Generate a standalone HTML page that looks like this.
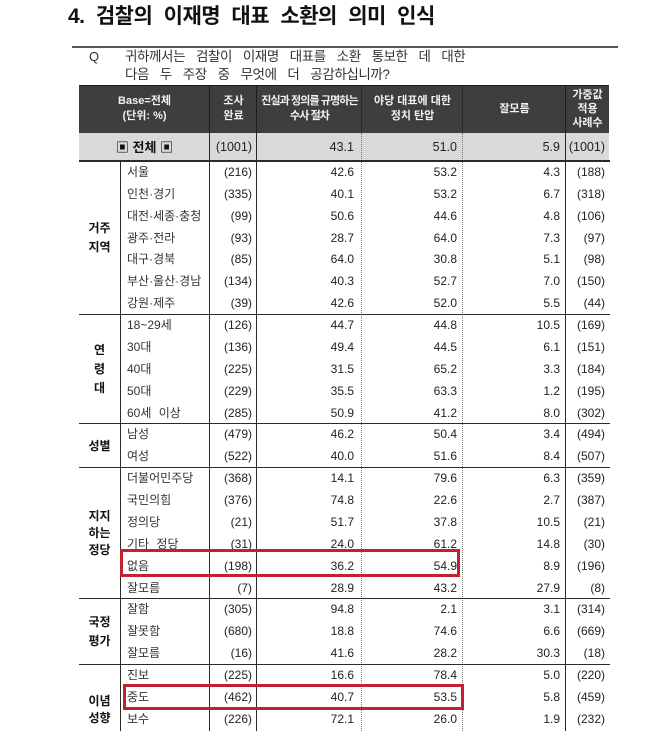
<!DOCTYPE html>
<html><head><meta charset="utf-8">
<style>
*{margin:0;padding:0;box-sizing:border-box}
body{width:658px;height:731px;background:#fff;position:relative;overflow:hidden;font-family:"Liberation Sans","Noto Sans CJK KR",sans-serif;color:#222}
.abs{position:absolute}
.title{left:68px;top:4px;font-size:21px;line-height:26px;font-weight:bold;letter-spacing:-0.5px;word-spacing:6px;color:#111;white-space:nowrap}
.q{font-size:13px;line-height:18px;color:#333;white-space:nowrap}
.qt{left:125px;top:48px;font-size:13.5px;letter-spacing:-0.4px;word-spacing:7.5px}
.hdr{left:79px;top:85px;width:530px;height:48px;background:#3e3e3e;border-top:1.5px solid #1c1c1c}
.hc{position:absolute;top:85px;height:48px;display:flex;align-items:center;justify-content:center;text-align:center;color:#f2f2f2;font-size:11px;font-weight:bold;line-height:15px;white-space:nowrap}
.tot{left:79px;top:133px;width:530px;height:28px;background:#d9d9d9}
.hl{position:absolute;left:79px;width:531px;height:1.5px;background:#2a2a2a}
.vl{position:absolute;width:1px;background:#2a2a2a}
.vd{position:absolute;width:0;border-left:1px dotted #777}
.r{position:absolute;left:0;width:658px;height:21.87px;line-height:23px;font-size:12px;white-space:nowrap}
.r span{position:absolute;top:0}
.l{left:127px;color:#333}
.n{right:406px}
.a{right:304px}
.b{right:201px}
.c{right:98px}
.d{right:53px}
.g{position:absolute;left:79px;width:41px;text-align:center;font-weight:bold;font-size:12px;color:#111}
.box{position:absolute;border:3px solid #c0232f}
</style></head><body>

<div class="abs title">4. 검찰의 이재명 대표 소환의 의미 인식</div>
<div class="abs" style="left:72px;top:46px;width:546px;height:2px;background:#555"></div>
<div class="abs q" style="left:89px;top:48px">Q</div>
<div class="abs q qt">귀하께서는 검찰이 이재명 대표를 소환 통보한 데 대한<br>다음 두 주장 중 무엇에 더 공감하십니까?</div>

<div class="abs hdr"></div>
<div class="hc" style="left:79px;width:131px">Base=전체<br>(단위: %)</div>
<div class="hc" style="left:210px;width:47px">조사<br>완료</div>
<div class="hc" style="left:257px;width:105px;letter-spacing:-0.9px">진실과 정의를 규명하는<br>수사 절차</div>
<div class="hc" style="left:362px;width:101px">야당 대표에 대한<br>정치 탄압</div>
<div class="hc" style="left:463px;width:103px">잘모름</div>
<div class="hc" style="left:566px;width:43px;line-height:14px">가중값<br>적용<br>사례수</div>
<div class="abs" style="left:209px;top:86px;width:1px;height:47px;background:#1e1e1e"></div>
<div class="abs" style="left:256px;top:86px;width:1px;height:47px;background:#1e1e1e"></div>
<div class="abs" style="left:361px;top:86px;width:1px;height:47px;background:#2a2a2a"></div>
<div class="abs" style="left:462px;top:86px;width:1px;height:47px;background:#2a2a2a"></div>
<div class="abs" style="left:565px;top:86px;width:1px;height:47px;background:#1e1e1e"></div>

<div class="abs tot"></div>
<div class="r" style="top:136px;font-size:12.5px">
<span style="left:79px;width:131px;text-align:center;font-weight:bold;font-size:13px;color:#111">▣ 전체 ▣</span>
<span class="n">(1001)</span><span class="a">43.1</span><span class="b">51.0</span><span class="c">5.9</span><span class="d">(1001)</span>
</div>

<!-- vertical lines -->
<div class="vl" style="left:120px;top:161px;height:570px"></div>
<div class="vl" style="left:209px;top:133px;height:598px"></div>
<div class="vl" style="left:256px;top:133px;height:598px"></div>
<div class="vd" style="left:361px;top:133px;height:598px"></div>
<div class="vd" style="left:462px;top:133px;height:598px"></div>
<div class="vl" style="left:565px;top:133px;height:598px"></div>

<!-- section lines -->
<div class="hl" style="top:160px"></div>
<div class="hl" style="top:313.5px"></div>
<div class="hl" style="top:422.5px"></div>
<div class="hl" style="top:466.5px"></div>
<div class="hl" style="top:597.5px"></div>
<div class="hl" style="top:663.5px"></div>

<!-- group labels -->
<div class="g" style="top:219px;line-height:19px">거주<br>지역</div>
<div class="g" style="top:340.5px;line-height:19px">연<br>령<br>대</div>
<div class="g" style="top:436.5px;line-height:19px">성별</div>
<div class="g" style="top:507.5px;line-height:17px">지지<br>하는<br>정당</div>
<div class="g" style="top:612.5px;line-height:19px">국정<br>평가</div>
<div class="g" style="top:693px;line-height:17px">이념<br>성향</div>

<!-- rows -->
<div class="r" style="top:161px"><span class="l">서울</span><span class="n">(216)</span><span class="a">42.6</span><span class="b">53.2</span><span class="c">4.3</span><span class="d">(188)</span></div>
<div class="r" style="top:182.87px"><span class="l">인천·경기</span><span class="n">(335)</span><span class="a">40.1</span><span class="b">53.2</span><span class="c">6.7</span><span class="d">(318)</span></div>
<div class="r" style="top:204.74px"><span class="l">대전·세종·충청</span><span class="n">(99)</span><span class="a">50.6</span><span class="b">44.6</span><span class="c">4.8</span><span class="d">(106)</span></div>
<div class="r" style="top:226.61px"><span class="l">광주·전라</span><span class="n">(93)</span><span class="a">28.7</span><span class="b">64.0</span><span class="c">7.3</span><span class="d">(97)</span></div>
<div class="r" style="top:248.48px"><span class="l">대구·경북</span><span class="n">(85)</span><span class="a">64.0</span><span class="b">30.8</span><span class="c">5.1</span><span class="d">(98)</span></div>
<div class="r" style="top:270.35px"><span class="l">부산·울산·경남</span><span class="n">(134)</span><span class="a">40.3</span><span class="b">52.7</span><span class="c">7.0</span><span class="d">(150)</span></div>
<div class="r" style="top:292.22px"><span class="l">강원·제주</span><span class="n">(39)</span><span class="a">42.6</span><span class="b">52.0</span><span class="c">5.5</span><span class="d">(44)</span></div>

<div class="r" style="top:314.09px"><span class="l">18~29세</span><span class="n">(126)</span><span class="a">44.7</span><span class="b">44.8</span><span class="c">10.5</span><span class="d">(169)</span></div>
<div class="r" style="top:335.96px"><span class="l">30대</span><span class="n">(136)</span><span class="a">49.4</span><span class="b">44.5</span><span class="c">6.1</span><span class="d">(151)</span></div>
<div class="r" style="top:357.83px"><span class="l">40대</span><span class="n">(225)</span><span class="a">31.5</span><span class="b">65.2</span><span class="c">3.3</span><span class="d">(184)</span></div>
<div class="r" style="top:379.7px"><span class="l">50대</span><span class="n">(229)</span><span class="a">35.5</span><span class="b">63.3</span><span class="c">1.2</span><span class="d">(195)</span></div>
<div class="r" style="top:401.57px"><span class="l" style="word-spacing:4px">60세 이상</span><span class="n">(285)</span><span class="a">50.9</span><span class="b">41.2</span><span class="c">8.0</span><span class="d">(302)</span></div>

<div class="r" style="top:423.44px"><span class="l">남성</span><span class="n">(479)</span><span class="a">46.2</span><span class="b">50.4</span><span class="c">3.4</span><span class="d">(494)</span></div>
<div class="r" style="top:445.31px"><span class="l">여성</span><span class="n">(522)</span><span class="a">40.0</span><span class="b">51.6</span><span class="c">8.4</span><span class="d">(507)</span></div>

<div class="r" style="top:467.18px"><span class="l">더불어민주당</span><span class="n">(368)</span><span class="a">14.1</span><span class="b">79.6</span><span class="c">6.3</span><span class="d">(359)</span></div>
<div class="r" style="top:489.05px"><span class="l">국민의힘</span><span class="n">(376)</span><span class="a">74.8</span><span class="b">22.6</span><span class="c">2.7</span><span class="d">(387)</span></div>
<div class="r" style="top:510.92px"><span class="l">정의당</span><span class="n">(21)</span><span class="a">51.7</span><span class="b">37.8</span><span class="c">10.5</span><span class="d">(21)</span></div>
<div class="r" style="top:532.79px"><span class="l" style="word-spacing:4px">기타 정당</span><span class="n">(31)</span><span class="a">24.0</span><span class="b">61.2</span><span class="c">14.8</span><span class="d">(30)</span></div>
<div class="r" style="top:554.66px"><span class="l">없음</span><span class="n">(198)</span><span class="a">36.2</span><span class="b">54.9</span><span class="c">8.9</span><span class="d">(196)</span></div>
<div class="r" style="top:576.53px"><span class="l">잘모름</span><span class="n">(7)</span><span class="a">28.9</span><span class="b">43.2</span><span class="c">27.9</span><span class="d">(8)</span></div>

<div class="r" style="top:598.4px"><span class="l">잘함</span><span class="n">(305)</span><span class="a">94.8</span><span class="b">2.1</span><span class="c">3.1</span><span class="d">(314)</span></div>
<div class="r" style="top:620.27px"><span class="l">잘못함</span><span class="n">(680)</span><span class="a">18.8</span><span class="b">74.6</span><span class="c">6.6</span><span class="d">(669)</span></div>
<div class="r" style="top:642.14px"><span class="l">잘모름</span><span class="n">(16)</span><span class="a">41.6</span><span class="b">28.2</span><span class="c">30.3</span><span class="d">(18)</span></div>

<div class="r" style="top:664.01px"><span class="l">진보</span><span class="n">(225)</span><span class="a">16.6</span><span class="b">78.4</span><span class="c">5.0</span><span class="d">(220)</span></div>
<div class="r" style="top:685.88px"><span class="l">중도</span><span class="n">(462)</span><span class="a">40.7</span><span class="b">53.5</span><span class="c">5.8</span><span class="d">(459)</span></div>
<div class="r" style="top:707.75px"><span class="l">보수</span><span class="n">(226)</span><span class="a">72.1</span><span class="b">26.0</span><span class="c">1.9</span><span class="d">(232)</span></div>

<!-- red highlight boxes -->
<div class="box" style="left:120px;top:549px;width:340px;height:28px"></div>
<div class="box" style="left:123px;top:684px;width:341px;height:26px"></div>

</body></html>
